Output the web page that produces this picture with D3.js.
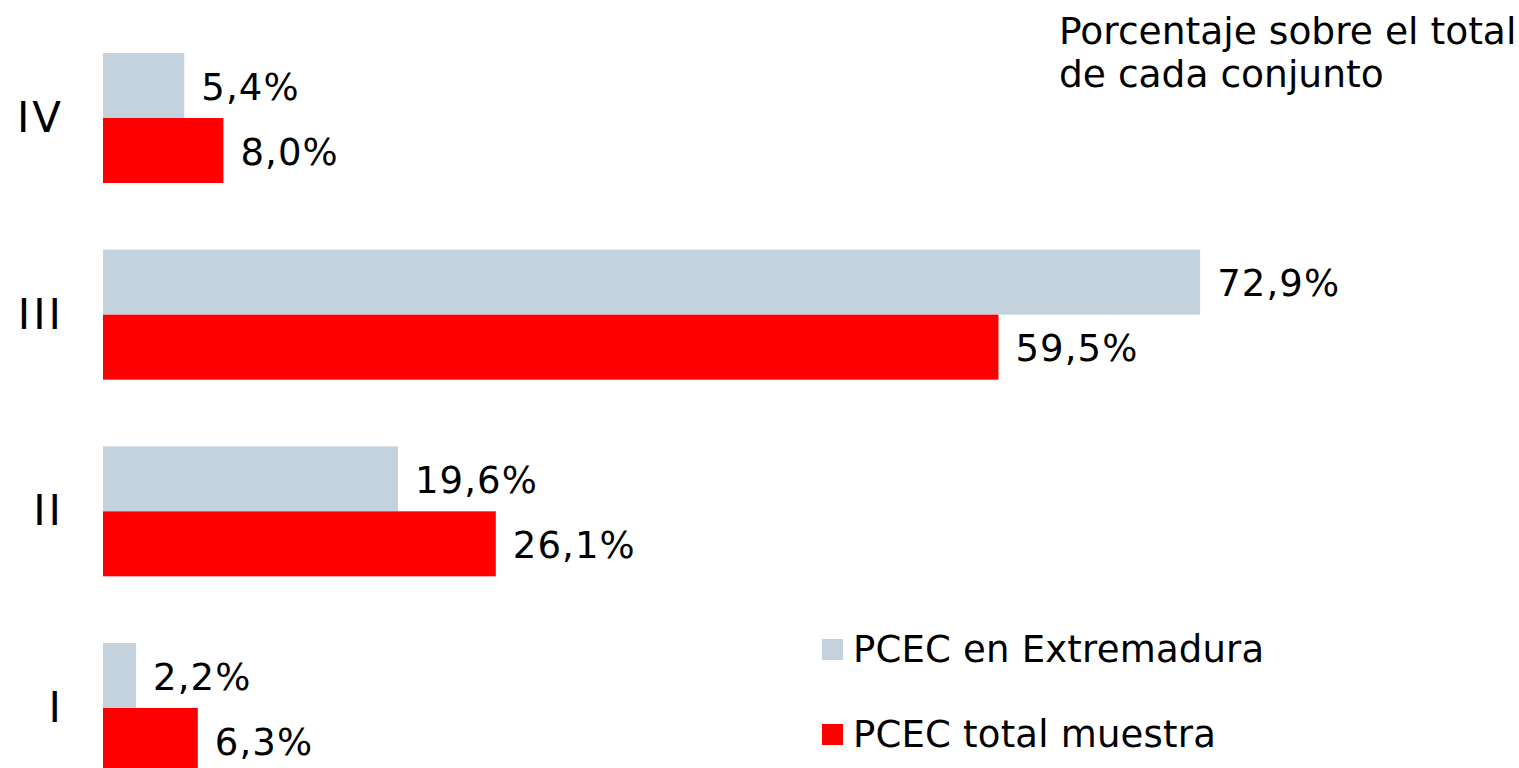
<!DOCTYPE html>
<html>
<head>
<meta charset="utf-8">
<script src="https://cdn.jsdelivr.net/npm/d3@7"></script>
<style>
  body { margin: 0; background: #fff; overflow: hidden; }
  text { font-family: "DejaVu Sans", Verdana, sans-serif; fill: #000; }
</style>
</head>
<body>
<div id="chart"></div>
<script>
var categories = ["IV", "III", "II", "I"];
var series = ["PCEC en Extremadura", "PCEC total muestra"];
var extremadura = [5.4, 72.9, 19.6, 2.2];
var totalMuestra = [8.0, 59.5, 26.1, 6.3];
var colors = ["#c4d2de", "#ff0000"];
var title = ["Porcentaje sobre el total", "de cada conjunto"];

var width = 1519, height = 768;

var svg = d3.select("#chart")
    .append("svg")
    .attr("width", width)
    .attr("height", height);

var x = d3.scaleLinear()
    .domain([0, 100])
    .range([103, 103 + 1505]);

var y = d3.scalePoint()
    .domain(categories)
    .range([118, 708]);

var sub = d3.scaleBand()
    .domain(series)
    .range([-65, 65]);

var fmt = function(v) { return v.toFixed(1).replace(".", ",") + "%"; };

var data = [];
categories.forEach(function(c, i) {
    data.push({ cat: c, s: series[0], v: extremadura[i], color: colors[0] });
    data.push({ cat: c, s: series[1], v: totalMuestra[i], color: colors[1] });
});

var g = svg.append("g");

g.selectAll("rect.bar")
    .data(data)
    .enter()
    .append("rect")
    .attr("class", "bar")
    .attr("x", x(0))
    .attr("y", function(d) { return y(d.cat) + sub(d.s); })
    .attr("width", function(d) { return x(d.v) - x(0); })
    .attr("height", sub.bandwidth())
    .attr("fill", function(d) { return d.color; });

g.selectAll("text.val")
    .data(data)
    .enter()
    .append("text")
    .attr("class", "val")
    .attr("x", function(d) { return x(d.v) + 17; })
    .attr("y", function(d) { return y(d.cat) + sub(d.s) + sub.bandwidth() / 2 + 14; })
    .attr("font-size", "37px")
    .attr("letter-spacing", "1.1px")
    .text(function(d) { return fmt(d.v); });

// category labels
g.selectAll("text.cat")
    .data(categories)
    .enter()
    .append("text")
    .attr("class", "cat")
    .attr("x", 64)
    .attr("y", function(d) { return y(d) + 14; })
    .attr("text-anchor", "end")
    .attr("font-size", "42px")
    .attr("letter-spacing", "3px")
    .text(function(d) { return d; });

// title
svg.append("text")
    .attr("x", 1059)
    .attr("y", 44)
    .attr("font-size", "37.6px")
    .selectAll("tspan")
    .data(title)
    .enter()
    .append("tspan")
    .attr("x", 1059)
    .attr("dy", function(d, i) { return i ? 43 : 0; })
    .text(function(d) { return d; });

// legend
var legend = svg.selectAll("g.legend")
    .data(series)
    .enter()
    .append("g")
    .attr("class", "legend")
    .attr("transform", function(d, i) { return "translate(822," + (639 + i * 85) + ")"; });

legend.append("rect")
    .attr("width", 21)
    .attr("height", 21)
    .attr("fill", function(d, i) { return colors[i]; });

legend.append("text")
    .attr("x", 31)
    .attr("y", 23)
    .attr("font-size", "37px")
    .attr("letter-spacing", "0.2px")
    .text(function(d) { return d; });
</script>
</body>
</html>
